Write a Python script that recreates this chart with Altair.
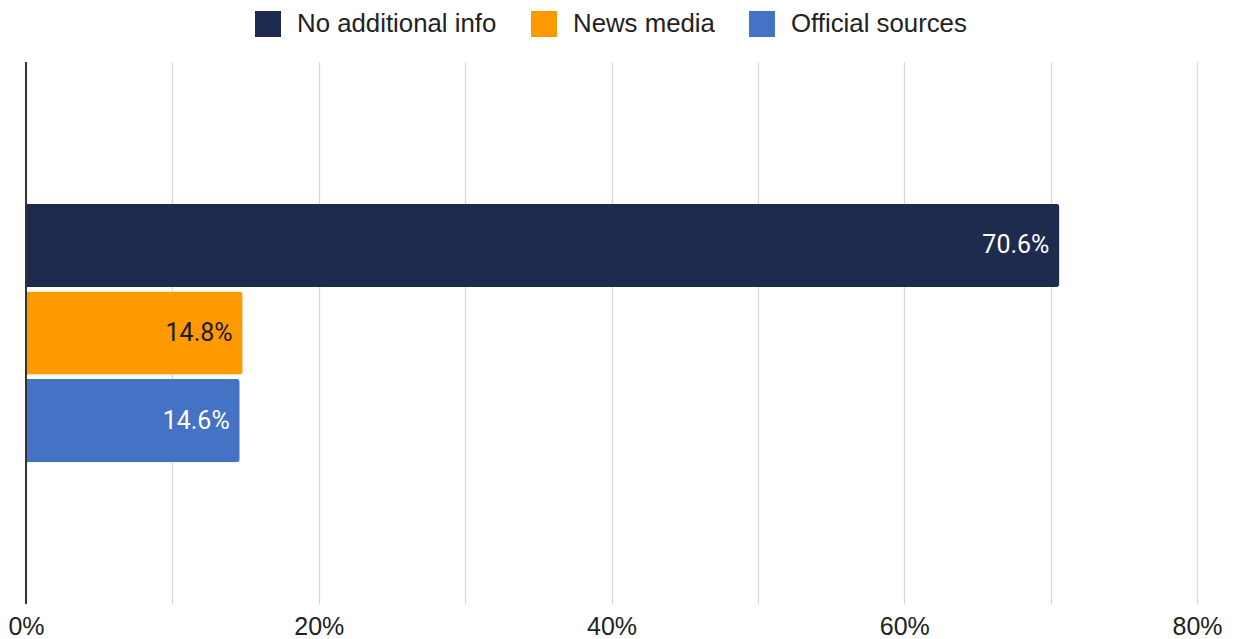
import altair as alt
import pandas as pd

series = ["No additional info", "News media", "Official sources"]
values = [70.6, 14.8, 14.6]
labels = ["70.6%", "14.8%", "14.6%"]
colors = ["#1f2a4f", "#ff9900", "#4472c4"]
text_colors = ["#ffffff", "#1a1a1a", "#ffffff"]
x_ticks = [0, 10, 20, 30, 40, 50, 60, 70, 80]
y_domain = ["_top"] + series + ["_bottom"]

df = pd.DataFrame({"series": series, "value": values, "label": labels, "tcolor": text_colors})

y_scale = alt.Scale(domain=y_domain, paddingInner=0.05, paddingOuter=0.62)

x_enc = alt.X("value:Q", scale=alt.Scale(domain=[0, 80], nice=False),
              axis=alt.Axis(title=None, values=x_ticks, ticks=False, domain=False,
                            grid=True, gridColor="#d9d9d9", gridWidth=1.3,
                            labelExpr="datum.value % 20 == 0 ? datum.value + '%' : ''",
                            labelFont="Liberation Sans", labelFontSize=25,
                            labelFlush=False, labelOverlap=False,
                            labelColor="#222222", labelPadding=10))

bars = alt.Chart(df).mark_bar(cornerRadiusTopRight=3, cornerRadiusBottomRight=3).encode(
    x=x_enc,
    y=alt.Y("series:N", scale=y_scale, axis=None),
    color=alt.Color("series:N", scale=alt.Scale(domain=series, range=colors),
                    legend=alt.Legend(title=None, orient="none", direction="horizontal",
                                      legendX=229, legendY=-51,
                                      symbolType="square", symbolSize=676,
                                      symbolStrokeWidth=0, symbolOpacity=1,
                                      labelFont="Liberation Sans", labelFontSize=25.8,
                                      labelLimit=400,
                                      labelColor="#222222", labelOffset=16,
                                      columnPadding=34)),
)

text = alt.Chart(df).mark_text(align="right", baseline="middle", dx=-10,
                               font="Roboto", fontSize=25).encode(
    x=alt.X("value:Q"),
    y=alt.Y("series:N", scale=y_scale),
    text="label:N",
    color=alt.Color("tcolor:N", scale=None, legend=None),
)

axis_line = alt.Chart(df).mark_rule(color="#333333", strokeWidth=1.5).encode(
    x=alt.value(0), y=alt.value(0), y2=alt.value(542)
)

chart = (bars + text + axis_line).properties(
    width=1171, height=542,
    autosize=alt.AutoSizeParams(type="none"),
    padding={"left": 26, "top": 62, "right": 36, "bottom": 35},
).configure_view(stroke=None)

chart.save("out.html", embed_options={"renderer": "svg", "actions": False})
